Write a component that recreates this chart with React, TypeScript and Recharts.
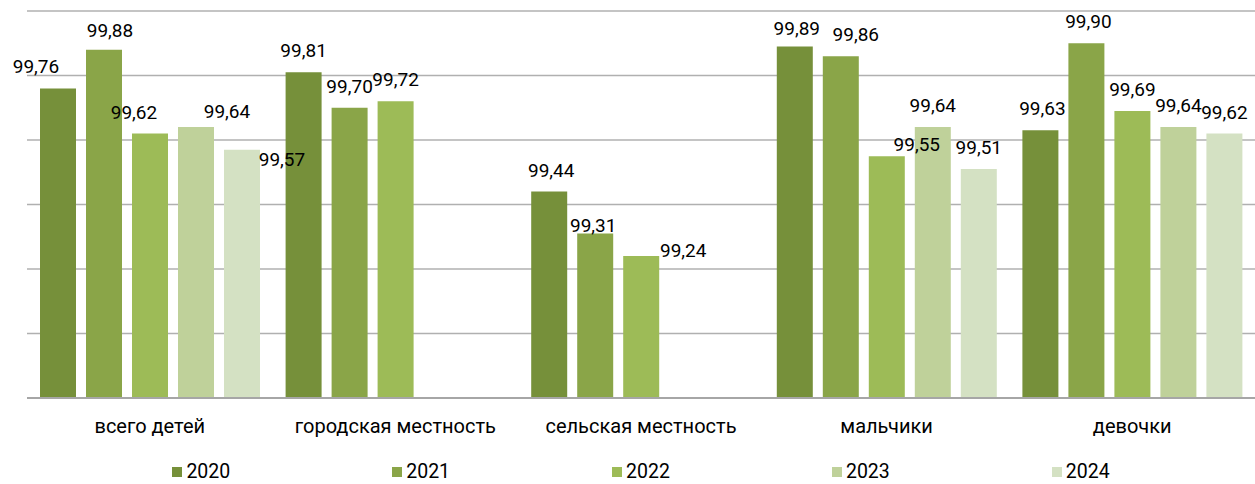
import { BarChart, Bar, XAxis, YAxis, CartesianGrid, Legend, LabelList } from "recharts";

const categories = ["всего детей", "городская местность", "сельская местность", "мальчики", "девочки"];
const years = ["2020", "2021", "2022", "2023", "2024"];

const s2020 = [99.76, 99.81, 99.44, 99.89, 99.63];
const s2021 = [99.88, 99.7, 99.31, 99.86, 99.9];
const s2022 = [99.62, 99.72, 99.24, 99.55, 99.69];
const s2023 = [99.64, null, null, 99.64, 99.64];
const s2024 = [99.57, null, null, 99.51, 99.62];

const yTicks = [98.8, 99.0, 99.2, 99.4, 99.6, 99.8, 100.0];

const colors: Record<string, string> = {
  "2020": "#76903A",
  "2021": "#8AA548",
  "2022": "#9DBB57",
  "2023": "#BFD19A",
  "2024": "#D4E1C3",
};

// hand-placed label nudges [dx, dy] per category, like the source
const nudge: Record<string, [number, number][]> = {
  "2020": [[-22, 0], [0, 0], [2, 0], [2, 4], [2, 0]],
  "2021": [[6, 2], [0, 0], [-2, 13], [15, 0], [2, 0]],
  "2022": [[-16, 0], [0, 0], [42, 16], [30, 10], [0, 0]],
  "2023": [[31, 6], [0, 0], [0, 0], [0, 1], [0, 1]],
  "2024": [[40, 31], [0, 0], [0, 0], [0, 0], [0, 1]],
};

const series: Record<string, (number | null)[]> = {
  "2020": s2020,
  "2021": s2021,
  "2022": s2022,
  "2023": s2023,
  "2024": s2024,
};

const data = categories.map((name, i) => {
  const row: Record<string, string | number | null> = { name };
  years.forEach((y) => {
    row[y] = series[y][i];
  });
  return row;
});

const font = "Roboto, 'Noto Sans', sans-serif";

const makeLabel = (year: string) => (props: any) => {
  const { x, y, width, value, index } = props;
  if (value == null) return null;
  const [dx, dy] = nudge[year][index] || [0, 0];
  return (
    <text
      x={x + width / 2 + dx}
      y={y - 15 + dy}
      textAnchor="middle"
      fontFamily={font}
      fontSize={19}
      fill="#000"
    >
      {Number(value).toFixed(2).replace(".", ",")}
    </text>
  );
};

const LegendContent = () => (
  <div
    style={{
      display: "flex",
      justifyContent: "center",
      gap: 162,
      paddingTop: 26,
      height: 16,
      lineHeight: "16px",
      fontFamily: font,
      fontSize: 19.5,
      color: "#000",
    }}
  >
    {years.map((y) => (
      <div key={y} style={{ display: "flex", alignItems: "center" }}>
        <span style={{ display: "inline-block", width: 10, height: 10, background: colors[y], marginRight: 4 }} />
        <span>{y}</span>
      </div>
    ))}
  </div>
);

export default function App() {
  return (
    <div style={{ position: "absolute", left: 0, top: 0 }}>
      <BarChart
        width={1255}
        height={484}
        data={data}
        margin={{ top: 11, right: 0, left: 27, bottom: 0 }}
        barCategoryGap={13}
        barGap={10}
      >
        <CartesianGrid vertical={false} stroke="#B0B0B0" strokeWidth={1.5} />
        <YAxis hide domain={[98.8, 100]} ticks={yTicks} allowDataOverflow />
        <XAxis
          dataKey="name"
          height={40}
          tickLine={false}
          tickSize={6}
          tickMargin={15}
          axisLine={{ stroke: "#A6A6A6", strokeWidth: 2 }}
          tick={{ fontFamily: font, fontSize: 20, fill: "#000" }}
          interval={0}
        />
        <Legend verticalAlign="bottom" content={LegendContent} wrapperStyle={{ height: 46 }} />
        {years.map((y) => (
          <Bar key={y} dataKey={y} fill={colors[y]} isAnimationActive={false}>
            <LabelList dataKey={y} content={makeLabel(y)} />
          </Bar>
        ))}
      </BarChart>
    </div>
  );
}
